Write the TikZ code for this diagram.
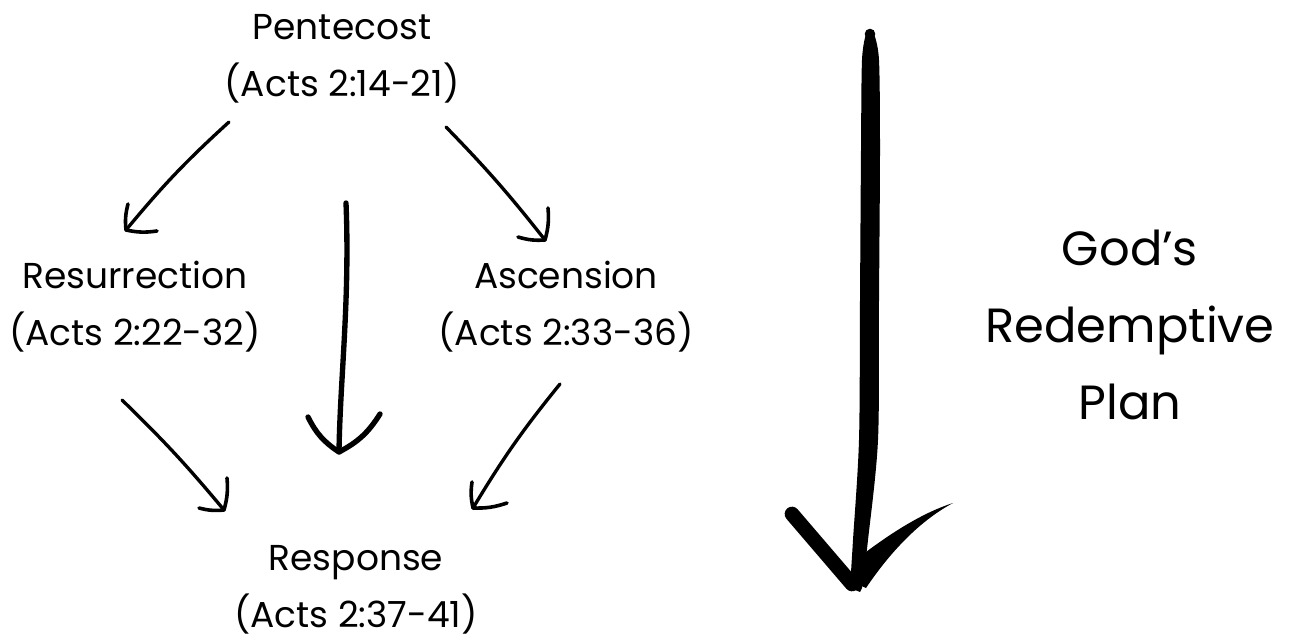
\documentclass[tikz,border=0pt]{standalone}
\usepackage{fontspec}
\setmainfont{Poppins}
\begin{document}
\begin{tikzpicture}[x=0.75pt,y=-0.75pt,
  lbl/.style={align=center,inner sep=0pt,font=\fontsize{27}{42.75}\selectfont},
  bigtxt/.style={align=center,inner sep=0pt,font=\fontsize{36}{58}\selectfont},
  conn/.style={line width=2.5pt,line cap=round,line join=round},
  barb/.style={line width=2.7pt,line cap=round,line join=round},
  midconn/.style={line width=4pt,line cap=round,line join=round},
  bigconn/.style={line width=11pt,line cap=round,line join=round}]
\useasboundingbox[fill=white] (0,0) rectangle (1290,641);
% nodes
\node[lbl] (pent) at (342,59) {Pentecost\\(Acts 2:14-21)};
\node[lbl] (res) at (135,307) {Resurrection\\(Acts 2:22-32)};
\node[lbl] (asc) at (566,307) {Ascension\\(Acts 2:33-36)};
\node[lbl] (resp) at (356,590) {Response\\(Acts 2:37-41)};
\node[bigtxt] (god) at (1130,325) {God’s\\Redemptive\\Plan};
% connector end points
\coordinate (a1s) at (229,122); \coordinate (a1t) at (126,230);
\coordinate (a1b1) at (128,204); \coordinate (a1b2) at (157,231);
\coordinate (a2s) at (446,127); \coordinate (a2t) at (545,240);
\coordinate (a2b1) at (548,208); \coordinate (a2b2) at (518,237);
\coordinate (a3s) at (346,203); \coordinate (a3t) at (339,452);
\coordinate (a3b1) at (308,417); \coordinate (a3b2) at (380,414);
\coordinate (a4s) at (122,400); \coordinate (a4t) at (224,510);
\coordinate (a4b1) at (227,478); \coordinate (a4b2) at (199,508);
\coordinate (a5s) at (560,384); \coordinate (a5t) at (473,508);
\coordinate (a5b1) at (472,482); \coordinate (a5b2) at (507,503);
% Pentecost -> Resurrection
\draw[conn] (a1s) to[bend right=4] (a1t);
\draw[barb] (a1b1) to[bend right=10] (a1t) to[bend right=10] (a1b2);
% Pentecost -> Ascension
\draw[conn] (a2s) to[bend left=3] (a2t);
\draw[barb] (a2b1) to[bend left=10] (a2t) to[bend left=10] (a2b2);
% Pentecost -> Response (middle)
\draw[midconn] (a3s) .. controls (350,300) and (340,380) .. (a3t);
\draw[midconn] (a3b1) to[bend right=15] (a3t) to[bend right=15] (a3b2);
% Resurrection -> Response
\draw[conn] (a4s) to[bend left=3] (a4t);
\draw[barb] (a4b1) to[bend left=10] (a4t) to[bend left=10] (a4b2);
% Ascension -> Response
\draw[conn] (a5s) to[bend right=4] (a5t);
\draw[barb] (a5b1) to[bend right=10] (a5t) to[bend right=10] (a5b2);
% big arrow
\coordinate (bt) at (855,590);
\coordinate (bl) at (792,514); \coordinate (br) at (953,503);
\fill plot[smooth] coordinates {(866,34) (862,60) (861,150) (860,300) (859,440) (853,540) (850,588)}
  -- (bt) -- (860,592)
  -- plot[smooth] coordinates {(862,588) (868,540) (878,440) (879,300) (880,150) (879,60) (874,34)}
  -- cycle;
\fill (870,34) circle[radius=5.3];
\draw[bigconn] (bl) -- (852,584);
\fill (857,584) -- (862,555) .. controls (895,530) and (925,512) .. (br)
  .. controls (925,518) and (895,545) .. (866,588) -- cycle;
\end{tikzpicture}
\end{document}
